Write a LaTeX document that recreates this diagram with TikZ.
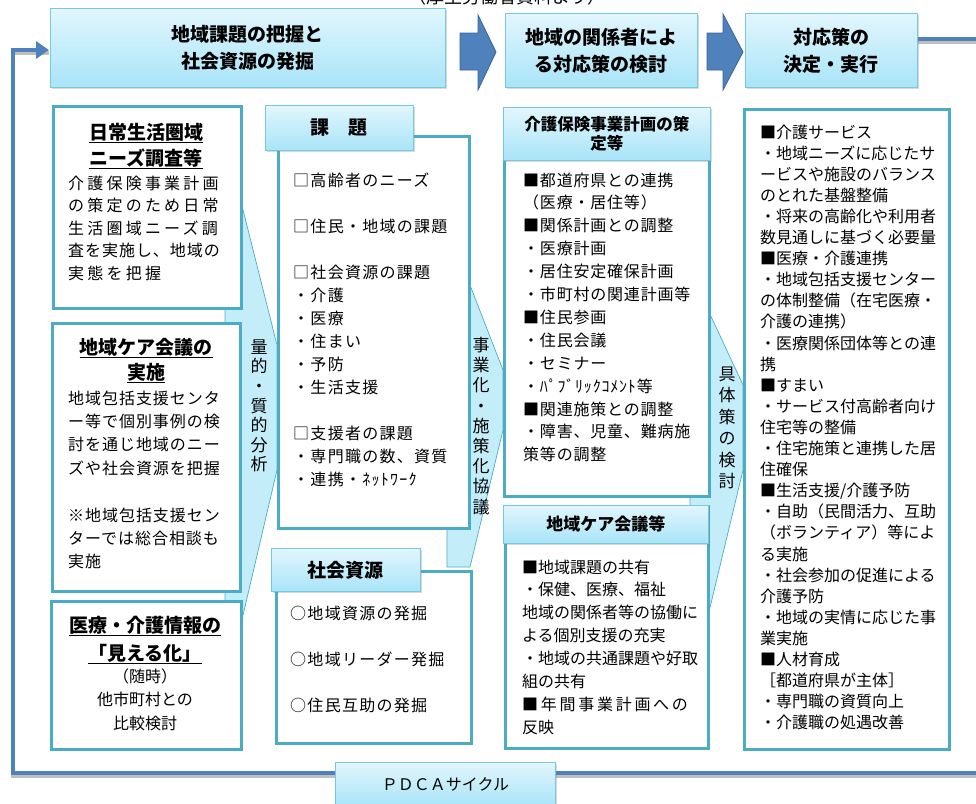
\documentclass[tikz,border=0pt]{standalone}
\usepackage{fontspec}
\setmainfont{Noto Sans CJK JP}
\usepackage{tikz}
\usetikzlibrary{shadows, arrows.meta}

\definecolor{hdtop}{HTML}{E2F6FD}
\definecolor{hdbot}{HTML}{A8E4F8}
\definecolor{hdline}{HTML}{78C8DF}
\definecolor{boxline}{HTML}{4BACC6}
\definecolor{cycblue}{HTML}{4F81BD}
\definecolor{arrline}{HTML}{3A6395}
\definecolor{callfill}{HTML}{C4EDFA}

\tikzstyle{headbox} = [rectangle, anchor=north west, inner sep=0pt, align=center, draw=hdline, line width=0.8pt, top color=hdtop, bottom color=hdbot, drop shadow={opacity=0.3, shadow xshift=1.5pt, shadow yshift=-2pt}, font=\bfseries\fontsize{19}{27}\selectfont]
\tikzstyle{sidebox} = [rectangle, anchor=north west, inner sep=0pt, draw=boxline, line width=2.5pt, fill=white]
\tikzstyle{bodytext} = [anchor=base west, inner sep=0pt, text width=200pt, align=left, font=\fontsize{16}{23}\selectfont]
\tikzstyle{boxtitle} = [anchor=base, inner sep=0pt, text width=190pt, align=center, font=\bfseries\fontsize{19}{26}\selectfont]
\tikzstyle{vtext} = [inner sep=0pt, align=center, font=\fontsize{17}{20}\selectfont]
\tikzstyle{callout} = [draw=boxline, line width=0.7pt, fill=callfill]
\tikzstyle{bigarrow} = [draw=arrline, line width=0.8pt, fill=cycblue]
\tikzstyle{cycleline} = [draw=cycblue, line width=4pt]
\tikzstyle{cycshadow} = [draw=black!25, line width=4pt, transform canvas={yshift=-2.5pt}]

\begin{document}
\begin{tikzpicture}[x=1pt, y=-1pt]
\useasboundingbox (0,0) rectangle (976,803);

\node (source) [anchor=base, inner sep=0pt, font=\fontsize{18}{20}\selectfont] at (507,4) {（厚生労働省資料より）};

% PDCA cycle line
\coordinate (cycOut) at (917,39);
\coordinate (cycRight) at (995,773);
\coordinate (cycLeft) at (13,773);
\coordinate (cycIn) at (49,50);
\draw [cycshadow] (cycOut) -| (cycRight) -- (cycLeft) |- (cycIn);
\draw [cycleline, -{Triangle[length=13pt, width=17pt]}] (cycOut) -| (cycRight) -- (cycLeft) |- (cycIn);

% callouts behind the boxes
\draw [callout] (225,200) -- (240,198) -- (277,345) -- (277,470) -- (240,628) -- (225,628) -- cycle;
\draw [callout] (447,280) -- (468,280) -- (503,370) -- (503,430) -- (470,567) -- (447,567) -- cycle;
\draw [callout] (690,310) -- (708,310) -- (743,385) -- (743,470) -- (707,620) -- (690,620) -- cycle;
\node (bunseki) [vtext, font=\fontsize{17}{19.6}\selectfont] at (259,406) {量\\的\\・\\質\\的\\分\\析};
\node (jigyoka) [vtext, font=\fontsize{17}{20.2}\selectfont] at (481,426) {事\\業\\化\\・\\施\\策\\化\\協\\議};
\node (gutai) [vtext, font=\fontsize{17}{21.5}\selectfont] at (727,428) {具\\体\\策\\の\\検\\討};

% top row
\node (head1) [headbox, minimum width=395pt, minimum height=79pt] at (50,8) {地域課題の把握と\\社会資源の発掘};
\node (head2) [headbox, minimum width=192pt, minimum height=74pt] at (505,13) {地域の関係者によ\\る対応策の検討};
\node (head3) [headbox, minimum width=172pt, minimum height=74pt] at (745,13) {対応策の\\決定・実行};
\draw [bigarrow] (460,33) -- (478,33) -- (478,15) -- (496,52) -- (478,90) -- (478,70) -- (460,70) -- cycle;
\draw [bigarrow] (707,33) -- (723,33) -- (723,14) -- (743,52) -- (723,90) -- (723,70) -- (707,70) -- cycle;

% left column
\node (nichijo) [sidebox, minimum width=188pt, minimum height=202pt] at (52,105) {};
\node (careMtg) [sidebox, minimum width=188pt, minimum height=268pt] at (51,322) {};
\node (mieruka) [sidebox, minimum width=190pt, minimum height=148pt] at (50,600) {};
\node (nichijoTitle) [boxtitle] at (146,139) {\underline{日常生活圏域}\\\underline{ニーズ調査等}};
\node (nichijoTxt) [bodytext, font=\fontsize{16}{22.5}\selectfont\addfontfeature{LetterSpace=20}] at (68,189) {介護保険事業計画\\の策定のため日常\\生活圏域ニーズ調\\{\addfontfeature{LetterSpace=6}査を実施し、地域の}\\実態を把握};
\node (careMtgTitle) [boxtitle, font=\bfseries\fontsize{19}{25}\selectfont] at (146,354) {\underline{地域ケア会議の}\\\underline{実施}};
\node (careMtgTxt) [bodytext, font=\fontsize{16}{23.4}\selectfont\addfontfeature{LetterSpace=6}] at (68,404) {地域包括支援センタ\\ー等で個別事例の検\\討を通じ地域のニー\\ズや社会資源を把握\\[23.4pt]※地域包括支援セン\\ターでは総合相談も\\実施};
\node (mierukaTitle) [boxtitle, font=\bfseries\fontsize{19}{28}\selectfont] at (145,632) {\underline{医療・介護情報の}\\\underline{「見える化」}};
\node (mierukaTxt) [boxtitle, font=\fontsize{16}{23.5}\selectfont] at (145,682) {（随時）\\他市町村との\\比較検討};

% kadai / shigen
\node (kadaiBody) [sidebox, minimum width=191pt, minimum height=392pt] at (277,135) {};
\node (kadaiHead) [headbox, minimum width=148pt, minimum height=45pt] at (265,105) {課　題};
\node (kadaiTxt) [bodytext, font=\fontsize{16}{23}\selectfont\addfontfeature{LetterSpace=8}] at (293,186) {□高齢者のニーズ\\[23pt]□住民・地域の課題\\[23pt]□社会資源の課題\\・介護\\・医療\\・住まい\\・予防\\・生活支援\\[23pt]□支援者の課題\\・専門職の数、資質\\・連携・ﾈｯﾄﾜｰｸ};
\node (shigenBody) [sidebox, minimum width=195pt, minimum height=172pt] at (275,570) {};
\node (shigenHead) [headbox, minimum width=149pt, minimum height=43pt] at (271,548) {社会資源};
\node (shigenTxt) [bodytext, font=\fontsize{16}{23}\selectfont\addfontfeature{LetterSpace=8}] at (290,619) {○地域資源の発掘\\[23pt]○地域リーダー発掘\\[23pt]○住民互助の発掘};

% middle column
\node (keikakuBody) [sidebox, minimum width=205pt, minimum height=388pt] at (503,107) {};
\node (keikakuHead) [headbox, minimum width=207pt, minimum height=53pt, font=\bfseries\fontsize{16.5}{19}\selectfont] at (503,107) {介護保険事業計画の策\\定等};
\node (keikakuTxt) [bodytext, font=\fontsize{16}{22.9}\selectfont\addfontfeature{LetterSpace=5}] at (523,186) {■都道府県との連携\\（医療・居住等）\\■関係計画との調整\\・医療計画\\・居住安定確保計画\\・市町村の関連計画等\\■住民参画\\・住民会議\\・セミナー\\・ﾊﾟﾌﾞﾘｯｸｺﾒﾝﾄ等\\■関連施策との調整\\・障害、児童、難病施\\策等の調整};
\node (careBody) [sidebox, minimum width=203pt, minimum height=242pt] at (504,505) {};
\node (careHead) [headbox, minimum width=205pt, minimum height=38pt, font=\bfseries\fontsize{17}{20}\selectfont] at (503,505) {地域ケア会議等};
\node (careTxt) [bodytext, font=\fontsize{16}{22.9}\selectfont] at (522,573) {■地域課題の共有\\・保健、医療、福祉\\地域の関係者等の協働に\\よる個別支援の充実\\・地域の共通課題や好取\\組の共有\\{\addfontfeature{LetterSpace=17}■年間事業計画への}\\反映};

% right column
\node (sakuBody) [sidebox, minimum width=205pt, minimum height=640pt] at (743,108) {};
\node (sakuTxt) [bodytext, font=\fontsize{16}{21.1}\selectfont] at (760,138) {■介護サービス\\・地域ニーズに応じたサ\\ービスや施設のバランス\\のとれた基盤整備\\・将来の高齢化や利用者\\数見通しに基づく必要量\\■医療・介護連携\\・地域包括支援センター\\の体制整備（在宅医療・\\介護の連携）\\・医療関係団体等との連\\携\\■すまい\\・サービス付高齢者向け\\住宅等の整備\\・住宅施策と連携した居\\住確保\\■生活支援/介護予防\\・自助（民間活力、互助\\（ボランティア）等によ\\る実施\\・社会参加の促進による\\介護予防\\・地域の実情に応じた事\\業実施\\■人材育成\\［都道府県が主体］\\・専門職の資質向上\\・介護職の処遇改善};

% PDCA label on the cycle line
\node (pdca) [headbox, minimum width=220pt, minimum height=44pt, font=\fontsize{16}{20}\selectfont] at (335,762) {ＰＤＣＡサイクル};

\end{tikzpicture}
\end{document}
